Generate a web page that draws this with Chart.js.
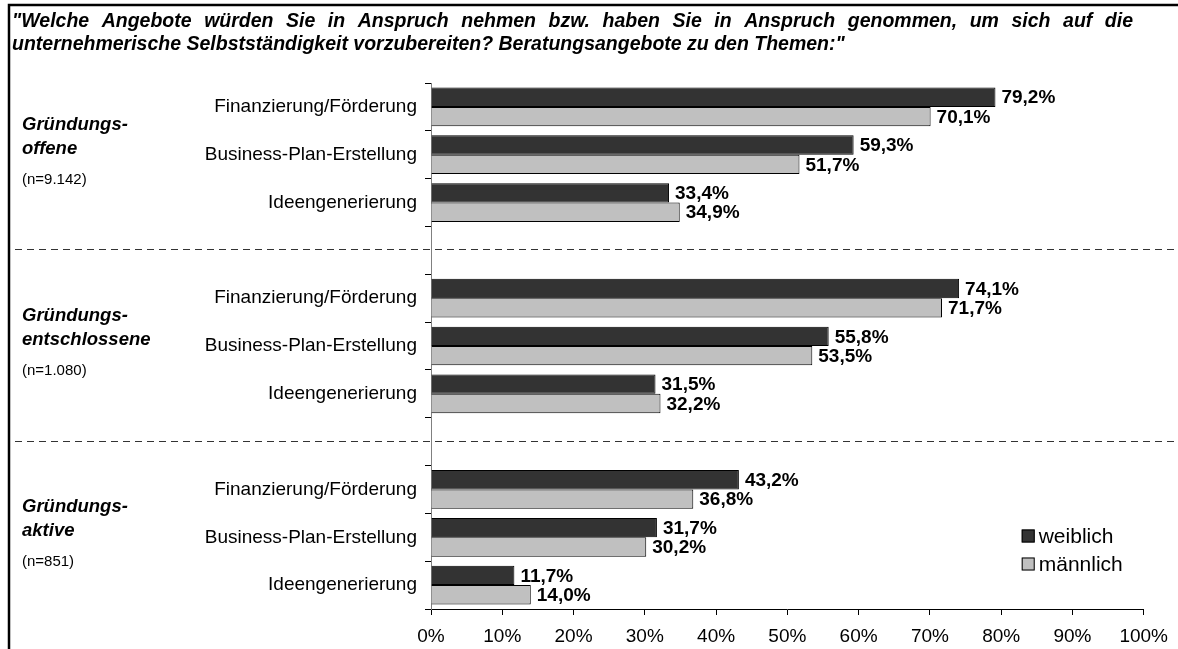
<!DOCTYPE html>
<html>
<head>
<meta charset="utf-8">
<script src="https://cdn.jsdelivr.net/npm/chart.js@4"></script>
<style>
  body { margin: 0; background: #fff; }
  #wrap { width: 1178px; height: 649px; }
</style>
</head>
<body>
<div id="wrap"><canvas id="angeboteChart" width="1178" height="649"></canvas></div>
<script>
const FONT = 'Arial, "Liberation Sans", sans-serif';

const titleLines = [
  '"Welche Angebote würden Sie in Anspruch nehmen bzw. haben Sie in Anspruch genommen, um sich auf die',
  'unternehmerische Selbstständigkeit vorzubereiten? Beratungsangebote zu den Themen:"'
];
const groupNames = [['Gründungs-', 'offene'], ['Gründungs-', 'entschlossene'], ['Gründungs-', 'aktive']];
const groupSizes = ['(n=9.142)', '(n=1.080)', '(n=851)'];
const topics = ['Finanzierung/Förderung', 'Business-Plan-Erstellung', 'Ideengenerierung'];
const weiblich = [79.2, 59.3, 33.4, 74.1, 55.8, 31.5, 43.2, 31.7, 11.7];
const maennlich = [70.1, 51.7, 34.9, 71.7, 53.5, 32.2, 36.8, 30.2, 14.0];
const xTicks = [0, 10, 20, 30, 40, 50, 60, 70, 80, 90, 100];

// one empty slot between the groups, used for the dashed separator
const labels = [], wData = [], mData = [];
groupNames.forEach((g, gi) => {
  if (gi > 0) { labels.push(''); wData.push(null); mData.push(null); }
  topics.forEach((t, ti) => {
    labels.push(t);
    wData.push(weiblich[gi * 3 + ti]);
    mData.push(maennlich[gi * 3 + ti]);
  });
});

const fmt = v => v.toFixed(1).replace('.', ',') + '%';

// draws a line of text stretched to a given width (justified), or plain if width is null
function drawLine(ctx, text, x, y, width) {
  if (!width) { ctx.fillText(text, x, y); return; }
  const words = text.split(' ');
  const natural = words.reduce((s, w) => s + ctx.measureText(w).width, 0);
  const gap = (width - natural) / (words.length - 1);
  words.forEach(w => {
    ctx.fillText(w, x, y);
    x += ctx.measureText(w).width + gap;
  });
}

const extras = {
  id: 'extras',
  afterDraw(chart) {
    const ctx = chart.ctx;
    const y = chart.scales.y;
    const area = chart.chartArea;
    ctx.save();
    ctx.fillStyle = '#000';
    ctx.textAlign = 'left';
    ctx.textBaseline = 'middle';

    // question text
    ctx.font = 'italic bold 19.5px ' + FONT;
    drawLine(ctx, titleLines[0], 12, 22, 1121);
    drawLine(ctx, titleLines[1], 12, 45, null);

    // value labels
    ctx.font = 'bold 19px ' + FONT;
    chart.data.datasets.forEach((ds, di) => {
      chart.getDatasetMeta(di).data.forEach((bar, i) => {
        if (ds.data[i] == null) return;
        ctx.fillText(fmt(ds.data[i]), bar.x + 6, bar.y + 1);
      });
    });

    // dashed separators
    ctx.strokeStyle = '#333';
    ctx.lineWidth = 1;
    ctx.setLineDash([7, 5]);
    for (let g = 1; g < groupNames.length; g++) {
      const py = Math.round(y.getPixelForValue(g * 4 - 1)) - 0.5;
      ctx.beginPath();
      ctx.moveTo(15, py);
      ctx.lineTo(1174, py);
      ctx.stroke();
    }
    ctx.setLineDash([]);

    // group names on the left
    groupNames.forEach((g, gi) => {
      const cy = y.getPixelForValue(gi * 4 + 1);
      ctx.font = 'italic bold 18.5px ' + FONT;
      ctx.fillText(g[0], 22, cy - 30);
      ctx.fillText(g[1], 22, cy - 6);
      ctx.font = '15px ' + FONT;
      ctx.fillText(groupSizes[gi], 22, cy + 25);
    });

    // legend
    ctx.font = '21px ' + FONT;
    chart.data.datasets.forEach((ds, di) => {
      const cy = 536 + di * 28;
      const sx = area.right - 122;
      ctx.fillStyle = ds.backgroundColor;
      ctx.fillRect(sx, cy - 6.5, 13, 13);
      ctx.strokeStyle = '#000';
      ctx.strokeRect(sx + 0.5, cy - 6, 12, 12);
      ctx.fillStyle = '#000';
      ctx.fillText(ds.label, sx + 17, cy + 1);
    });

    // outer frame
    ctx.strokeStyle = '#000';
    ctx.lineWidth = 2.5;
    ctx.beginPath();
    ctx.moveTo(9, 649);
    ctx.lineTo(9, 5);
    ctx.lineTo(1178, 5);
    ctx.stroke();
    ctx.restore();
  }
};

new Chart(document.getElementById('angeboteChart').getContext('2d'), {
  type: 'bar',
  data: {
    labels: labels,
    datasets: [
      { label: 'weiblich', data: wData, backgroundColor: '#333333', borderColor: '#000', borderWidth: 1 },
      { label: 'männlich', data: mData, backgroundColor: '#c0c0c0', borderColor: '#000', borderWidth: 1 }
    ]
  },
  options: {
    indexAxis: 'y',
    responsive: false,
    animation: false,
    categoryPercentage: 0.81,
    barPercentage: 1,
    layout: { padding: { left: 12, right: 32, top: 83, bottom: 0 } },
    plugins: {
      legend: { display: false },
      tooltip: { enabled: false },
      title: { display: false }
    },
    scales: {
      x: {
        min: 0,
        max: 100,
        afterBuildTicks: scale => { scale.ticks = xTicks.map(v => ({ value: v })); },
        afterFit: scale => { scale.height = 40; },
        ticks: {
          callback: v => v + '%',
          color: '#000',
          padding: 10,
          font: { family: FONT, size: 19 }
        },
        grid: { drawOnChartArea: false, drawTicks: true, tickLength: 6, color: '#000' },
        border: { display: true, color: '#000', width: 1 }
      },
      y: {
        afterFit: scale => { scale.width = 419; },
        ticks: {
          autoSkip: false,
          color: '#000',
          padding: 8,
          font: { family: FONT, size: 19 }
        },
        grid: { offset: true, drawOnChartArea: false, drawTicks: true, tickLength: 6, color: '#000' },
        border: { display: true, color: '#808080', width: 1 }
      }
    }
  },
  plugins: [extras]
});
</script>
</body>
</html>
